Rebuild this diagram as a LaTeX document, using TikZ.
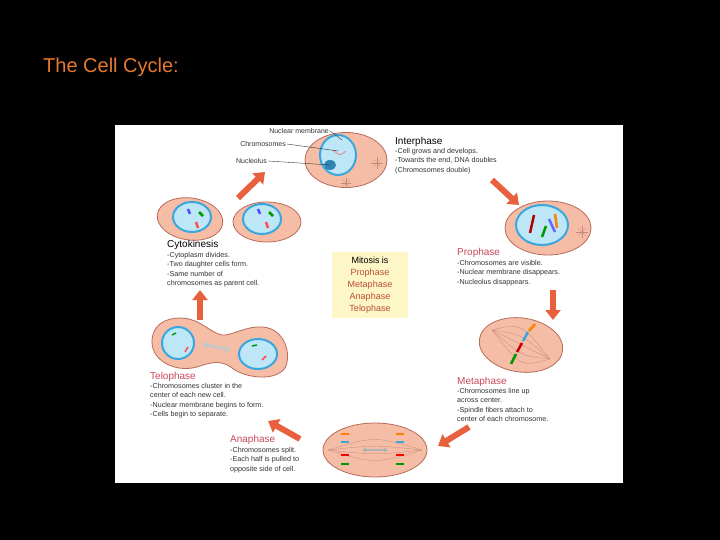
\documentclass[tikz,border=0pt]{standalone}
\usepackage{fontspec}
\setmainfont{Liberation Sans}
\usetikzlibrary{arrows.meta,shapes.geometric}
\definecolor{ttl}{HTML}{E8782E}
\definecolor{cellf}{HTML}{F6BDA6}
\definecolor{celld}{HTML}{B86A5A}
\definecolor{nuc}{HTML}{3BA6DE}
\definecolor{nucin}{HTML}{BDE6F6}
\definecolor{arr}{HTML}{E8613E}
\definecolor{phase}{HTML}{C8485A}
\definecolor{boxf}{HTML}{FDF6C6}
\definecolor{tx}{HTML}{333333}
\tikzset{
 cell/.style={ellipse,draw=celld,fill=cellf,line width=0.8pt,inner sep=0pt},
 nucl/.style={ellipse,draw=nuc,line width=2pt,fill=nucin,inner sep=0pt},
 bigarr/.style={draw=arr,line width=6pt,-{Triangle[width=15pt,length=10pt]}},
 head/.style={anchor=north west,inner sep=0pt,font=\fontsize{10}{11}\selectfont},
 body/.style={anchor=north west,inner sep=0pt,align=left,text=tx,font=\fontsize{7.2}{9.3}\selectfont},
 lab/.style={anchor=east,inner sep=1pt,text=tx,font=\fontsize{7}{8}\selectfont},
 chr/.style={line width=2.5pt},
 fib/.style={celld!80,line width=0.3pt}
}
\begin{document}
\begin{tikzpicture}[x=1pt,y=-1pt]
\useasboundingbox (0,0) rectangle (720,540);
\fill[black] (0,0) rectangle (720,540);
\node[anchor=west,inner sep=0pt,text=ttl,font=\fontsize{20}{24}\selectfont] (title) at (43,67) {The Cell Cycle:};
\fill[white] (115,125) rectangle (623,483);
% Interphase
\node[cell,minimum width=82,minimum height=55] (inter) at (346,160) {};
\node[nucl,minimum width=36,minimum height=40] (inuc) at (338,155) {};
\fill[nuc!80!black] (330,165) ellipse (6 and 5);
\draw[red!60,line width=0.6pt] (333,150)..controls (340,156)..(346,151);
\foreach \a in {0,45,...,315}{\draw[fib] (377,163) -- ++(\a:6);}
\foreach \a in {0,45,...,315}{\draw[fib] (346,183) -- ++(\a:5);}
\node[lab] (lnm) at (330,131) {Nuclear membrane};
\node[lab] (lch) at (287,144) {Chromosomes};
\node[lab] (lnu) at (268,161) {Nucleolus};
\draw[tx,line width=0.4pt] (lnm.east) -- (342,140);
\draw[tx,line width=0.4pt] (lch.east) -- (338,151);
\draw[tx,line width=0.4pt] (lnu.east) -- (330,165);
\node[head] (hint) at (395,137) {Interphase};
\node[body] (bint) at (395,148) {-Cell grows and develops.\\-Towards the end, DNA doubles\\(Chromosomes double)};
% Prophase
\node[cell,minimum width=86,minimum height=54] (pro) at (548,228) {};
\node[nucl,minimum width=52,minimum height=40] (pnuc) at (542,225) {};
\foreach \a in {0,45,...,315}{\draw[fib] (582,232) -- ++(\a:6);}
\draw[chr,red!70!black] (534,215)--(530,233);
\draw[chr,green!60!black] (546,226)--(542,237);
\draw[chr,orange] (555,214)--(557,228);
\draw[chr,blue!60] (549,219)--(555,232);
\node[head,text=phase] (hpro) at (457,248) {Prophase};
\node[body] (bpro) at (457,260) {-Chromosomes are visible.\\-Nuclear membrane disappears.\\-Nucleolus disappears.};
% Metaphase
\node[cell,minimum width=84,minimum height=54,rotate=-8] (meta) at (521,345) {};
\foreach \a in {-22,-11,0,11,22}{\draw[fib] (492,330) .. controls (521,345+\a) .. (550,359);}
\draw[chr,orange] (535,324)--(529,331);
\draw[chr,nuc] (528,332)--(523,341);
\draw[chr,red!80!black] (522,343)--(517,352);
\draw[chr,green!60!black] (516,354)--(511,364);
\node[head,text=phase] (hmeta) at (457,377) {Metaphase};
\node[body] (bmeta) at (457,388) {-Chromosomes line up\\across center.\\-Spindle fibers attach to\\center of each chromosome.};
% Anaphase
\node[cell,minimum width=104,minimum height=54] (ana) at (375,450) {};
\foreach \a in {-14,-5,5,14}{\draw[fib] (328,450) .. controls (375,450+\a) .. (422,450);}
\draw[gray!60,line width=2pt,{Triangle[width=5pt,length=4pt]}-{Triangle[width=5pt,length=4pt]}] (362,450)--(388,450);
\foreach \y/\c in {434/orange,442/nuc,455/red,464/green!60!black}{\draw[chr,\c] (341,\y)--(349,\y); \draw[chr,\c] (396,\y)--(404,\y);}
\node[head,text=phase] (hana) at (230,435) {Anaphase};
\node[body] (bana) at (230,447) {-Chromosomes split.\\-Each half is pulled to\\opposite side of cell.};
% Telophase
\fill[cellf,draw=celld,line width=0.8pt] (180,318) .. controls (200,318) and (210,333) .. (222,335) .. controls (232,336) and (245,326) .. (262,327) .. controls (285,328) and (292,355) .. (285,368) .. controls (275,382) and (245,378) .. (232,368) .. controls (222,360) and (212,362) .. (200,366) .. controls (178,374) and (152,362) .. (152,342) .. controls (152,325) and (165,318) .. (180,318) -- cycle;
\node[nucl,minimum width=32,minimum height=32] (tn1) at (178,343) {};
\node[nucl,minimum width=38,minimum height=30] (tn2) at (258,354) {};
\draw[chr,green!60!black,line width=1.5pt] (172,335)--(176,333);
\draw[chr,red!70,line width=1.5pt] (185,352)--(188,347);
\draw[chr,green!60!black,line width=1.5pt] (252,346)--(257,345);
\draw[chr,red!70,line width=1.5pt] (262,360)--(266,356);
\draw[gray!45,line width=3pt,{Triangle[width=8pt,length=5pt]}-{Triangle[width=8pt,length=5pt]}] (202,344)--(230,350);
\node[head,text=phase] (htel) at (150,372) {Telophase};
\node[body] (btel) at (150,383) {-Chromosomes cluster in the\\center of each new cell.\\-Nuclear membrane begins to form.\\-Cells begin to separate.};
% Cytokinesis
\node[cell,minimum width=66,minimum height=42,rotate=-8] (cy1) at (190,219) {};
\node[cell,minimum width=68,minimum height=40] (cy2) at (267,222) {};
\node[nucl,minimum width=38,minimum height=30] (cn1) at (192,217) {};
\node[nucl,minimum width=38,minimum height=30] (cn2) at (262,219) {};
\foreach \x in {0,70}{\draw[chr,blue!70] (188+\x,209)--(190+\x,214); \draw[chr,green!60!black] (199+\x,212)--(203+\x,216); \draw[chr,red!70] (196+\x,222)--(198+\x,228);}
\node[head] (hcyt) at (167,240) {Cytokinesis};
\node[body] (bcyt) at (167,252) {-Cytoplasm divides.\\-Two daughter cells form.\\-Same number of\\chromosomes as parent cell.};
% Mitosis box
\node[fill=boxf,minimum width=76,minimum height=66,inner sep=0pt] (mbox) at (370,285) {};
\node[align=center,inner sep=0pt,font=\fontsize{9}{12}\selectfont] (mtext) at (370,285) {Mitosis is\\\textcolor{arr!80!black}{Prophase}\\\textcolor{arr!80!black}{Metaphase}\\\textcolor{arr!80!black}{Anaphase}\\\textcolor{arr!80!black}{Telophase}};
% Arrows
\coordinate (a1s) at (492,180); \coordinate (a1e) at (519,205);
\coordinate (a2s) at (553,290); \coordinate (a2e) at (553,320);
\coordinate (a3s) at (469,427); \coordinate (a3e) at (438,446);
\coordinate (a4s) at (300,439); \coordinate (a4e) at (268,421);
\coordinate (a5s) at (200,320); \coordinate (a5e) at (200,290);
\coordinate (a6s) at (238,198); \coordinate (a6e) at (265,172);
\foreach \i in {1,...,6}{\draw[bigarr] (a\i s)--(a\i e);}
\end{tikzpicture}
\end{document}
